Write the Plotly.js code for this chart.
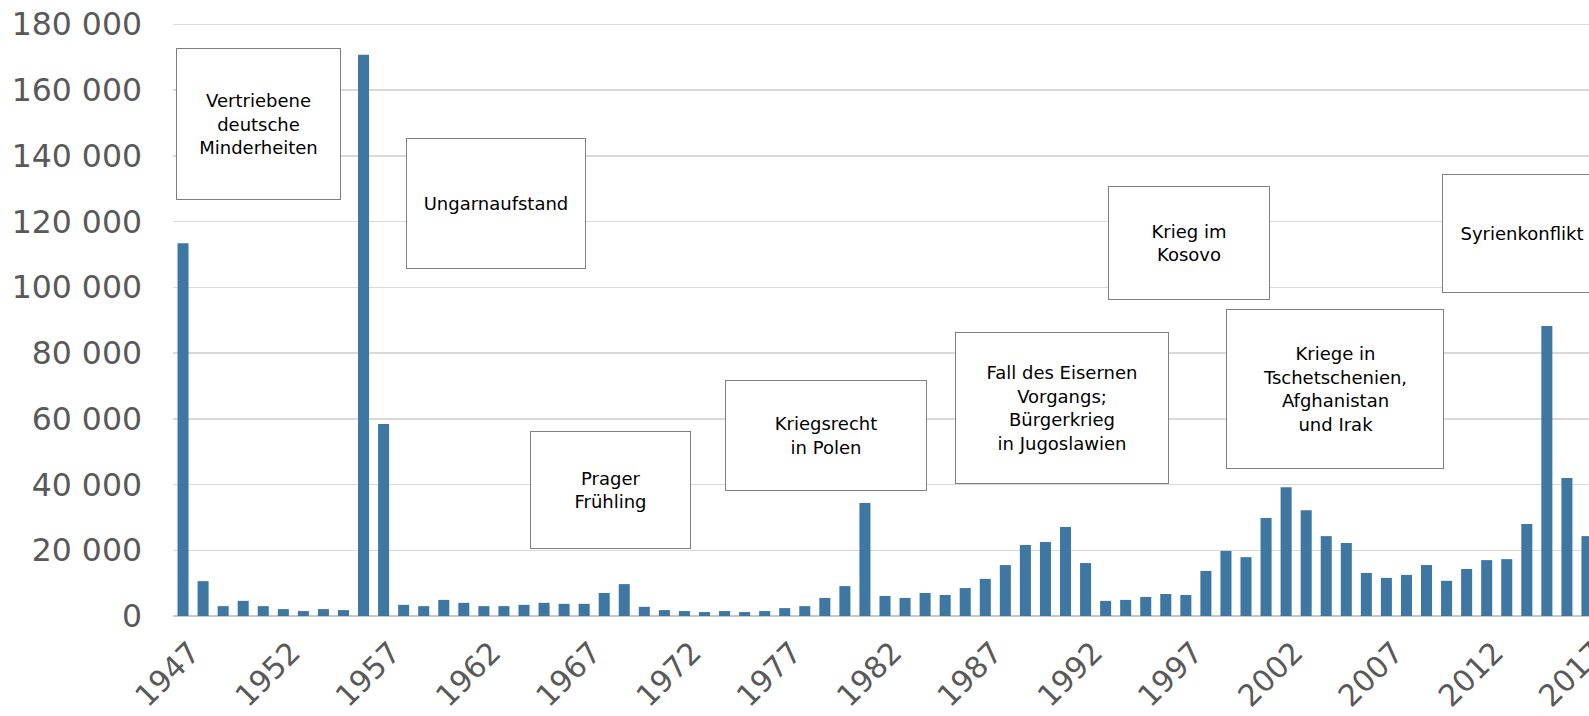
<!DOCTYPE html>
<html>
<head>
<meta charset="utf-8">
<script src="https://cdn.plot.ly/plotly-3.0.1.min.js"></script>
<style>
html, body { margin: 0; padding: 0; background: #fff; overflow: hidden; width: 1589px; height: 716px; }
#chart { width: 1617px; height: 716px; }
</style>
</head>
<body>
<div id="chart"></div>
<script>
const years = [];
for (let y = 1947; y <= 2017; y++) years.push(y);

const refugees = [
  113400, 10600, 3000, 4600, 3000, 2100, 1500, 2100, 1800, 170700,
  58400, 3400, 3000, 4900, 4000, 3000, 3000, 3400, 4000, 3700,
  3700, 7000, 9700, 2800, 1800, 1500, 1200, 1500, 1200, 1500,
  2400, 3000, 5500, 9100, 34400, 6100, 5500, 7000, 6400, 8500,
  11300, 15500, 21600, 22500, 27100, 16100, 4600, 4900, 5800, 6700,
  6400, 13700, 19800, 17900, 29800, 39200, 32200, 24300, 22200, 13100,
  11600, 12500, 15500, 10700, 14300, 17000, 17300, 28000, 88200, 42000,
  24300
];

const tickYears = [1947, 1952, 1957, 1962, 1967, 1972, 1977, 1982, 1987, 1992, 1997, 2002, 2007, 2012, 2017];

const eventLabels = [
  "Vertriebene<br>deutsche<br>Minderheiten",
  "Ungarnaufstand",
  "Prager<br>Frühling",
  "Kriegsrecht<br>in Polen",
  "Fall des Eisernen<br>Vorgangs;<br>Bürgerkrieg<br>in Jugoslawien",
  "Krieg im<br>Kosovo",
  "Kriege in<br>Tschetschenien,<br>Afghanistan<br>und Irak",
  "Syrienkonflikt"
];
const eventX = [1950.77, 1962.58, 1968.33, 1979.05, 1990.82, 1997.16, 2004.45, 2013.78];
const eventY = [149570, 125480, 38360, 54910, 63180, 113540, 69100, 116360];
const eventW = [163, 178, 159, 200, 212, 160, 216, 158];
const eventH = [150, 129, 116, 109, 150, 112, 158, 117];

const annotations = eventLabels.map((t, i) => ({
  text: t,
  x: eventX[i], y: eventY[i], xref: 'x', yref: 'y',
  xanchor: 'center', yanchor: 'middle',
  width: eventW[i], height: eventH[i],
  showarrow: false,
  align: 'center', valign: 'middle',
  bgcolor: '#ffffff', bordercolor: '#7f7f7f', borderwidth: 1, borderpad: 0,
  font: { family: 'DejaVu Sans, Verdana, sans-serif', size: 18, color: '#000000' }
}));

const trace = {
  type: 'bar',
  x: years,
  y: refugees,
  marker: { color: '#3f77a3', line: { width: 0 } },
  hoverinfo: 'x+y'
};

const layout = {
  width: 1617, height: 716,
  margin: { l: 173, r: 20, t: 20, b: 100 },
  paper_bgcolor: '#ffffff', plot_bgcolor: '#ffffff',
  separators: ', ',
  bargap: 0.45,
  showlegend: false,
  font: { family: 'DejaVu Sans, Verdana, sans-serif', color: '#595959' },
  xaxis: {
    range: [1946.5, 2017.5],
    tickmode: 'array', tickvals: tickYears, ticktext: tickYears.map(String),
    tickangle: -45,
    tickfont: { size: 30, color: '#595959' },
    showgrid: false, zeroline: false, showline: false, ticks: '',
    ticklabelstandoff: 12,
    ticklabelshift: 8,
    fixedrange: true
  },
  yaxis: {
    range: [0, 181300],
    tickvals: [0, 20000, 40000, 60000, 80000, 100000, 120000, 140000, 160000, 180000],
    tickformat: ',d',
    tickfont: { size: 31.5, color: '#595959' },
    showgrid: true, gridcolor: '#d9d9d9', gridwidth: 1.5,
    zeroline: true, zerolinecolor: '#c8c8c8', zerolinewidth: 2,
    showline: false, ticks: '',
    ticklabelstandoff: 30,
    fixedrange: true
  },
  annotations: annotations
};

Plotly.newPlot('chart', [trace], layout, { displayModeBar: false, staticPlot: true });
</script>
</body>
</html>
